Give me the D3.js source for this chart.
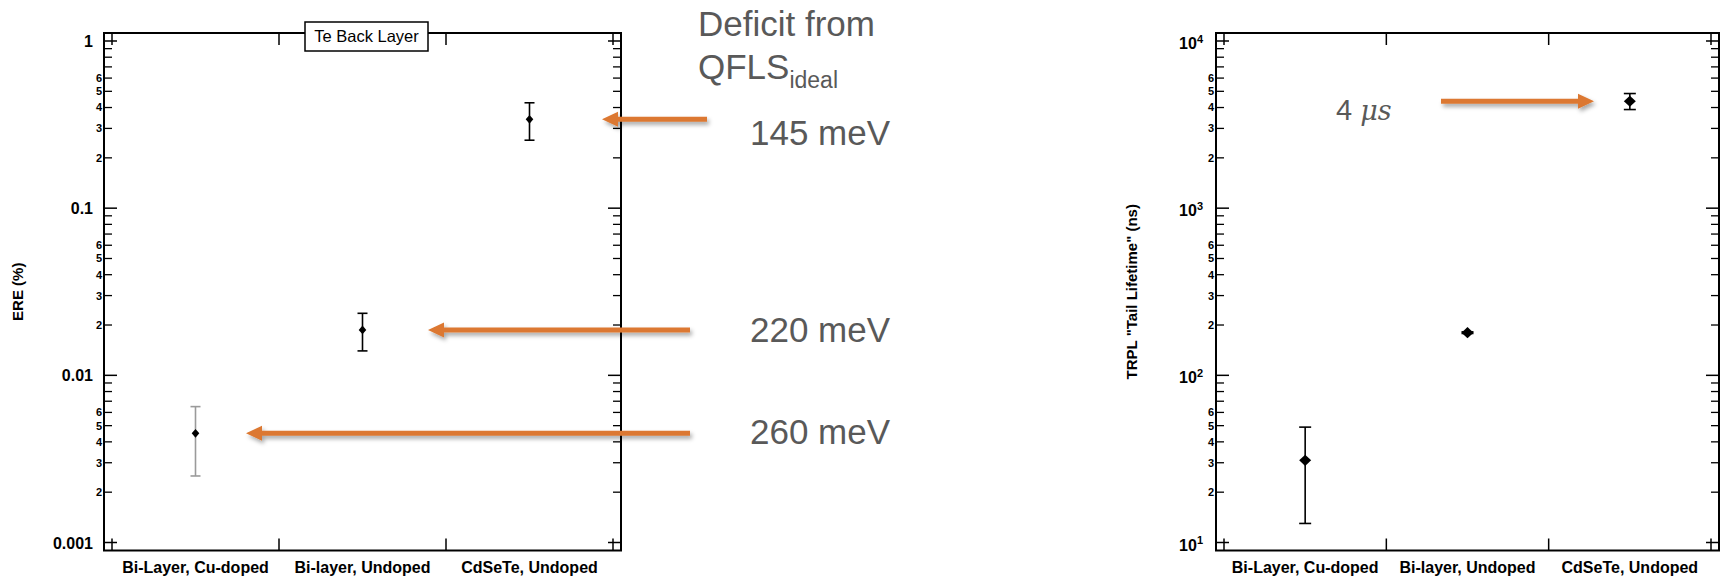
<!DOCTYPE html>
<html>
<head>
<meta charset="utf-8">
<script src="https://cdn.jsdelivr.net/npm/d3@7"></script>
<style>
  body { margin: 0; background: #fff; }
  svg { display: block; font-family: "Liberation Sans", Arial, sans-serif; }
</style>
</head>
<body>
<svg id="chart" width="1723" height="579"></svg>
<script>
// ---- data ----
const categories = ["Bi-Layer, Cu-doped", "Bi-layer, Undoped", "CdSeTe, Undoped"];

// External radiative efficiency (%) with error-bar limits
const ereValues = [0.0045, 0.0187, 0.340];
const ereLow    = [0.0025, 0.0140, 0.255];
const ereHigh   = [0.0065, 0.0235, 0.427];

// TRPL tail lifetime (ns) with error-bar limits
const tailValues = [31, 180, 4360];
const tailLow    = [13, 178, 3890];
const tailHigh   = [49, 182, 4850];

// tick labels
const ereDecades = [0.001, 0.01, 0.1, 1];
const ereDecadeLabels = ["0.001", "0.01", "0.1", "1"];
const tailDecades = [10, 100, 1000, 10000];
const tailExponents = ["1", "2", "3", "4"];
const minorLabelled = [2, 3, 4, 5, 6];

// annotations
const deficitLabels = ["260 meV", "220 meV", "145 meV"];   // one per category
const lifetimeLabel = "4";

// ---- drawing ----
const svg = d3.select("#chart");
const INK = "#000";
const ORANGE = "#DC7830";
const GREY_TEXT = "#595959";

const defs = svg.append("defs");
const f = defs.append("filter").attr("id", "shadow")
  .attr("x", "-10%").attr("y", "-80%").attr("width", "130%").attr("height", "300%");
f.append("feDropShadow").attr("dx", 2).attr("dy", 3).attr("stdDeviation", 2)
  .attr("flood-color", "#000").attr("flood-opacity", 0.35);

function drawPanel(cfg) {
  const g = svg.append("g");
  const { x0, x1, y0, y1, pad } = cfg;
  const x = d3.scaleLinear().domain([0, 3]).range([x0 + pad, x1 - pad]);
  const y = d3.scaleLog().domain(cfg.domain).range([y1 - pad, y0 + pad]);

  // frame
  g.append("rect").attr("x", x0).attr("y", y0)
    .attr("width", x1 - x0).attr("height", y1 - y0)
    .attr("fill", "none").attr("stroke", INK).attr("stroke-width", 2);

  // x ticks at category boundaries, inward from top and bottom
  const xt = [0, 1, 2, 3];
  g.selectAll(".xb").data(xt).join("line")
    .attr("x1", d => x(d)).attr("x2", d => x(d))
    .attr("y1", y1).attr("y2", y1 - 12)
    .attr("stroke", INK).attr("stroke-width", 1.5);
  g.selectAll(".xtp").data(xt).join("line")
    .attr("x1", d => x(d)).attr("x2", d => x(d))
    .attr("y1", y0).attr("y2", y0 + 12)
    .attr("stroke", INK).attr("stroke-width", 1.5);

  // y ticks (log): decades long, minor short, on both sides
  const [lo, hi] = cfg.domain;
  const minors = [];
  for (let d = lo; d < hi; d *= 10) {
    for (let k = 2; k <= 9; k++) minors.push({ v: k * d, k });
  }
  [[x0, 1], [x1, -1]].forEach(([xs, dir]) => {
    g.selectAll(null).data(cfg.decades).join("line")
      .attr("x1", xs).attr("x2", xs + dir * 13)
      .attr("y1", d => y(d)).attr("y2", d => y(d))
      .attr("stroke", INK).attr("stroke-width", 1.5);
    g.selectAll(null).data(minors).join("line")
      .attr("x1", xs).attr("x2", xs + dir * 8)
      .attr("y1", d => y(d.v)).attr("y2", d => y(d.v))
      .attr("stroke", INK).attr("stroke-width", 1.3);
  });

  // minor tick labels
  g.selectAll(null).data(minors.filter(d => minorLabelled.includes(d.k))).join("text")
    .attr("x", x0 - 2).attr("y", d => y(d.v)).attr("dy", "0.36em")
    .attr("text-anchor", "end").attr("font-size", 11).attr("font-weight", "bold")
    .attr("fill", INK).text(d => d.k);

  // decade labels
  const dl = g.selectAll(null).data(cfg.decades).join("text")
    .attr("x", x0 - cfg.labelGap).attr("y", d => y(d) + cfg.labelShift)
    .attr("text-anchor", "end").attr("font-size", 16).attr("font-weight", "bold")
    .attr("fill", INK);
  if (cfg.exponents) {
    dl.append("tspan").text("10");
    dl.append("tspan").attr("dy", "-0.55em").attr("font-size", 11)
      .text((d, i) => cfg.exponents[i]);
  } else {
    dl.text((d, i) => cfg.decadeLabels[i]);
  }

  // category labels
  g.selectAll(null).data(categories).join("text")
    .attr("x", (d, i) => x(i + 0.5)).attr("y", 573)
    .attr("text-anchor", "middle").attr("font-size", 16).attr("font-weight", "bold")
    .attr("fill", INK).text(d => d);

  // y-axis title
  g.append("text")
    .attr("transform", `translate(${cfg.titleX},${(y0 + y1) / 2}) rotate(-90)`)
    .attr("text-anchor", "middle").attr("font-size", 15).attr("font-weight", "bold")
    .attr("fill", INK).text(cfg.title);

  // error bars and diamond markers
  const pts = cfg.values.map((v, i) => ({ i, v, lo: cfg.low[i], hi: cfg.high[i] }));
  const cw = cfg.capHalf;
  pts.forEach(p => {
    const cx = x(p.i + 0.5);
    const col = cfg.barColor[p.i];
    g.append("line").attr("x1", cx).attr("x2", cx)
      .attr("y1", y(p.lo)).attr("y2", y(p.hi))
      .attr("stroke", col).attr("stroke-width", 1.6);
    [p.lo, p.hi].forEach(v => {
      g.append("line").attr("x1", cx - cw).attr("x2", cx + cw)
        .attr("y1", y(v)).attr("y2", y(v))
        .attr("stroke", col).attr("stroke-width", 1.6);
    });
  });
  pts.forEach(p => {
    const cx = x(p.i + 0.5), cy = y(p.v), hw = cfg.dw, hh = cfg.dh;
    g.append("path")
      .attr("d", `M${cx},${cy - hh}L${cx + hw},${cy}L${cx},${cy + hh}L${cx - hw},${cy}Z`)
      .attr("fill", INK);
  });

  return { g, x, y };
}

const ere = drawPanel({
  x0: 104, x1: 621, y0: 33, y1: 550.5, pad: 8,
  domain: [0.001, 1], decades: ereDecades, decadeLabels: ereDecadeLabels,
  labelGap: 11, labelShift: 6,
  title: "ERE (%)", titleX: 23,
  values: ereValues, low: ereLow, high: ereHigh,
  barColor: ["#9a9a9a", INK, INK],
  capHalf: 5, dw: 3.8, dh: 4.4
});

const trpl = drawPanel({
  x0: 1216, x1: 1719, y0: 33, y1: 550.5, pad: 8,
  domain: [10, 10000], decades: tailDecades, exponents: tailExponents,
  labelGap: 13, labelShift: 8,
  title: "TRPL \"Tail Lifetime\" (ns)", titleX: 1137,
  values: tailValues, low: tailLow, high: tailHigh,
  barColor: [INK, INK, INK],
  capHalf: 6, dw: 6, dh: 5.6
});

// title box on the ERE panel
const tb = ere.g.append("g");
tb.append("rect").attr("x", 305).attr("y", 22).attr("width", 123).attr("height", 29)
  .attr("fill", "#fff").attr("stroke", INK).attr("stroke-width", 1.5);
tb.append("text").attr("x", 366.5).attr("y", 42).attr("text-anchor", "middle")
  .attr("font-size", 16.5).attr("fill", INK).text("Te Back Layer");

// block arrow: shaft from tailX to the tip at tipX, at height y
function arrow(tailX, tipX, y) {
  const dir = tipX < tailX ? 1 : -1;     // head opens toward the tail
  const hl = 16, hw = 7.5, sw = 2.5;
  const hx = tipX + dir * hl;
  const d = `M${tailX},${y - sw}L${hx},${y - sw}L${hx},${y - hw}L${tipX},${y}` +
            `L${hx},${y + hw}L${hx},${y + sw}L${tailX},${y + sw}Z`;
  svg.append("path").attr("d", d).attr("fill", ORANGE).attr("filter", "url(#shadow)");
}

// deficit arrows point at each ERE marker
const deficitTip = [246, 428, 602];
const deficitTail = [690, 690, 707];
const deficitLabelY = [443.5, 341.5, 145];
ereValues.forEach((v, i) => {
  arrow(deficitTail[i], deficitTip[i], ere.y(v));
  svg.append("text").attr("x", 750).attr("y", deficitLabelY[i])
    .attr("font-size", 35).attr("fill", GREY_TEXT).text(deficitLabels[i]);
});

const head = svg.append("text").attr("x", 698).attr("fill", GREY_TEXT).attr("font-size", 35);
head.append("tspan").attr("x", 698).attr("y", 36).text("Deficit from");
head.append("tspan").attr("x", 698).attr("y", 78.5).text("QFLS");
head.append("tspan").attr("dy", 9).attr("font-size", 23).text("ideal");

// lifetime arrow points at the CdSeTe marker
arrow(1441, 1594, trpl.y(tailValues[2]));
const lt = svg.append("text").attr("x", 1336).attr("y", 120)
  .attr("font-size", 29).attr("fill", GREY_TEXT);
lt.append("tspan").text(lifetimeLabel + " ");
lt.append("tspan").attr("font-style", "italic").attr("font-family", "'DejaVu Serif', serif")
  .attr("font-size", 27).text("μs");
</script>
</body>
</html>
